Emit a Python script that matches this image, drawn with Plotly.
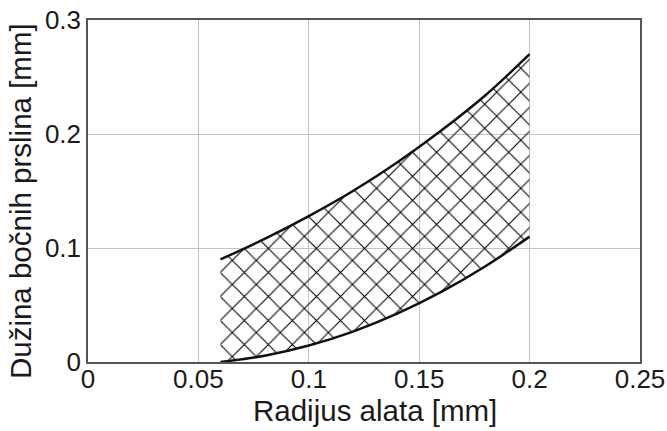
import plotly.graph_objects as go

# Data
radius = [0.06, 0.08, 0.10, 0.12, 0.14, 0.16, 0.18, 0.20]
upper = [0.090, 0.108, 0.128, 0.150, 0.175, 0.203, 0.234, 0.270]
lower = [0.000, 0.0055, 0.0144, 0.0267, 0.0424, 0.0615, 0.084, 0.110]

x_ticks = [0, 0.05, 0.1, 0.15, 0.2, 0.25]
x_labels = ["0", "0.05", "0.1", "0.15", "0.2", "0.25"]
y_ticks = [0, 0.1, 0.2, 0.3]
y_labels = ["0", "0.1", "0.2", "0.3"]

x_title = "Radijus alata [mm]"
y_title = "Dužina bočnih prslina [mm]"

font_family = "Liberation Sans, Arial, sans-serif"
text_color = "#1a1a1a"

fig = go.Figure()
fig.add_trace(go.Scatter(
    x=radius, y=lower, mode="lines",
    line=dict(color="#111111", width=2.5, shape="spline"),
    showlegend=False, hoverinfo="skip",
))
fig.add_trace(go.Scatter(
    x=radius, y=upper, mode="lines",
    line=dict(color="#111111", width=2.5, shape="spline"),
    fill="tonexty", fillcolor="rgba(255,255,255,0)",
    fillpattern=dict(shape="x", size=17, solidity=0.12,
                     fgcolor="#000000", fgopacity=1,
                     bgcolor="rgba(255,255,255,0)"),
    showlegend=False, hoverinfo="skip",
))

axis_common = dict(
    showgrid=True, gridcolor="#c4c4c4", gridwidth=1,
    showline=True, linecolor="#555555", linewidth=1.5, mirror=True,
    zeroline=False, ticks="", automargin=False,
    tickfont=dict(family=font_family, size=26, color=text_color),
)

fig.update_layout(
    width=667, height=431,
    margin=dict(l=88, r=27, t=20, b=69, autoexpand=False),
    paper_bgcolor="white", plot_bgcolor="white",
    xaxis=dict(range=[0, 0.25], tickvals=x_ticks, ticktext=x_labels,
               ticklabelstandoff=-7, **axis_common),
    yaxis=dict(range=[0, 0.3], tickvals=y_ticks, ticktext=y_labels,
               **axis_common),
    annotations=[
        dict(text=x_title, xref="paper", yref="paper", x=0.52, y=-0.142,
             xanchor="center", yanchor="middle", showarrow=False,
             font=dict(family=font_family, size=29.5, color=text_color)),
        dict(text=y_title, xref="paper", yref="paper", x=-0.09, y=0.47,
             xanchor="right", yanchor="middle", textangle=-90, showarrow=False,
             font=dict(family=font_family, size=29.5, color=text_color)),
    ],
)

fig.write_html("out.html", config={"displayModeBar": False},
               post_script="document.body.style.margin='0';document.body.style.overflow='hidden';")
